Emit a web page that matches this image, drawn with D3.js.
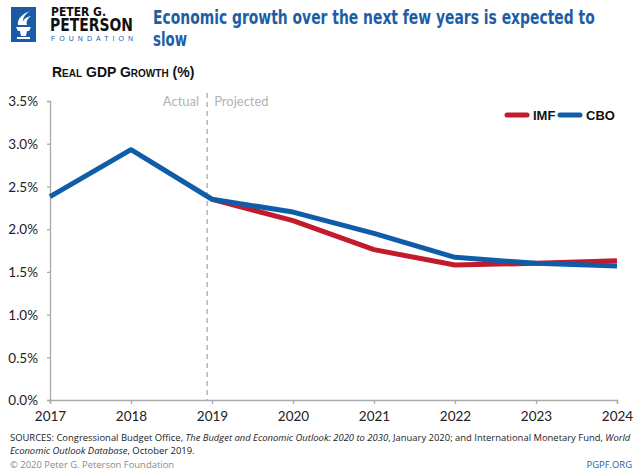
<!DOCTYPE html>
<html><head><meta charset="utf-8">
<script src="https://cdn.jsdelivr.net/npm/d3@7"></script>
<style>
body{margin:0;background:#fff;}
svg{display:block;}
</style></head>
<body><svg id="c" width="640" height="472"></svg>
<script>
const years = [2017, 2018, 2019, 2020, 2021, 2022, 2023, 2024];
const cboValues = [2.38, 2.93, 2.35, 2.20, 1.95, 1.67, 1.60, 1.57];
const imfYears = [2019, 2020, 2021, 2022, 2023, 2024];
const imfValues = [2.35, 2.10, 1.76, 1.58, 1.60, 1.63];
const yTicks = [0, 0.5, 1.0, 1.5, 2.0, 2.5, 3.0, 3.5];
const seriesNames = ["IMF", "CBO"];
const projectionStart = 2018.94;

const BLUE = "#0f5da8", RED = "#c11b2c", TITLE = "#1d5ea6";
const svg = d3.select("#c");
const x = d3.scaleLinear().domain([2017, 2024]).range([50, 617]);
const y = d3.scaleLinear().domain([0, 3.5]).range([400, 101]);

const condensed = "'Liberation Sans Narrow','DejaVu Sans Condensed',sans-serif";

// helper: place text at (tx,ty) and squeeze horizontally to a target width
function fitText(sel, tx, ty, width) {
  const w = sel.node().getComputedTextLength();
  const k = Math.min(1, width / w);
  sel.attr("x", 0).attr("y", 0).attr("transform", `translate(${tx},${ty}) scale(${k},1)`);
  return sel;
}

// Logo
const logo = svg.append("g");
logo.append("rect").attr("x", 11).attr("y", 7).attr("width", 25).attr("height", 35).attr("fill", "#1b5aa5");
logo.append("path").attr("d", "M16 27 L31 27 L29 31 L18 31 Z M20 31 L27 31 L26 36 L21 36 Z M17 37 L30 37 L30 39 L17 39 Z").attr("fill", "#fff");
logo.append("path").attr("d", "M18 25 C17 19 22 14 30 11 C24 15 22 19 23 25 Z M22 25 C22 20 26 17 31 16 C27 19 26 22 27 25 Z").attr("fill", "#fff");
logo.append("text").attr("x", 51).attr("y", 15.5).text("PETER G.")
  .attr("font-family", condensed).attr("font-weight", "bold").attr("font-size", 12).attr("fill", "#111");
fitText(logo.append("text").text("PETERSON")
  .attr("font-family", condensed).attr("font-weight", "bold").attr("font-size", 17.5).attr("fill", "#111"), 50, 31, 83);
logo.append("text").attr("x", 51).attr("y", 40.5).text("FOUNDATION")
  .attr("font-family", "'Liberation Sans',sans-serif").attr("font-size", 7).attr("fill", "#1b5aa5")
  .attr("textLength", 82).attr("lengthAdjust", "spacing");

// Title
fitText(svg.append("text").text("Economic growth over the next few years is expected to")
  .attr("font-family", condensed).attr("font-weight", "bold").attr("font-size", 20).attr("fill", TITLE), 153, 23.5, 442);
fitText(svg.append("text").text("slow")
  .attr("font-family", condensed).attr("font-weight", "bold").attr("font-size", 20).attr("fill", TITLE), 153, 45.5, 34);

// Subtitle (small caps)
fitText(svg.append("text").text("Real GDP Growth (%)")
  .attr("font-family", "'Liberation Sans',sans-serif").attr("font-weight", "bold").attr("font-size", 14)
  .style("font-variant", "small-caps").attr("fill", "#111"), 52, 77, 143);

// Axes
const axisColor = "#aaa";
const yAxis = svg.append("g").attr("transform", "translate(50,0)")
  .call(d3.axisLeft(y).tickValues(yTicks).tickFormat(d => d3.format(".1f")(d) + "%").tickSize(3).tickPadding(9));
const xAxis = svg.append("g").attr("transform", "translate(0,400)")
  .call(d3.axisBottom(x).tickValues(years).tickFormat(d3.format("d")).tickSize(4).tickPadding(7));
[yAxis, xAxis].forEach(a => {
  a.select(".domain").attr("stroke", axisColor).attr("stroke-width", 1.3);
  a.selectAll(".tick line").attr("stroke", axisColor).attr("stroke-width", 1.3);
  a.selectAll("text").attr("font-family", "Lato, sans-serif").attr("font-size", 13.5).attr("fill", "#222");
});
yAxis.selectAll("text").attr("dy", "0.35em");

// Actual / Projected divider
svg.append("line").attr("x1", x(projectionStart)).attr("x2", x(projectionStart)).attr("y1", 93).attr("y2", 400)
  .attr("stroke", "#aaa").attr("stroke-width", 1.3).attr("stroke-dasharray", "5,4");
svg.append("text").attr("x", x(projectionStart) - 8).attr("y", 106).attr("text-anchor", "end").text("Actual")
  .attr("font-family", "Lato, sans-serif").attr("font-size", 13).attr("fill", "#b3b3b3");
svg.append("text").attr("x", x(projectionStart) + 7).attr("y", 106).text("Projected")
  .attr("font-family", "Lato, sans-serif").attr("font-size", 13).attr("fill", "#b3b3b3");

// Lines
const line = d3.line().x(d => x(d[0])).y(d => y(d[1]));
svg.append("path").datum(imfYears.map((yr, i) => [yr, imfValues[i]])).attr("d", line)
  .attr("fill", "none").attr("stroke", RED).attr("stroke-width", 5).attr("stroke-linejoin", "round");
svg.append("path").datum(years.map((yr, i) => [yr, cboValues[i]])).attr("d", line)
  .attr("fill", "none").attr("stroke", BLUE).attr("stroke-width", 5).attr("stroke-linejoin", "round");

// Legend
const legend = svg.append("g");
const legendItems = [{name: seriesNames[0], color: RED, x: 507}, {name: seriesNames[1], color: BLUE, x: 560}];
legendItems.forEach(it => {
  legend.append("line").attr("x1", it.x).attr("x2", it.x + 20).attr("y1", 115).attr("y2", 115)
    .attr("stroke", it.color).attr("stroke-width", 5).attr("stroke-linecap", "round");
  legend.append("text").attr("x", it.x + 26).attr("y", 119.5).text(it.name)
    .attr("font-family", "'Liberation Sans',sans-serif").attr("font-weight", "bold").attr("font-size", 13).attr("fill", "#111");
});

// Sources
const sf = "'Open Sans', sans-serif";
const s1 = svg.append("text").attr("x", 10).attr("y", 441).attr("font-family", sf).attr("font-size", 10).attr("fill", "#222");
s1.append("tspan").text("SOURCES: Congressional Budget Office, ");
s1.append("tspan").attr("font-style", "italic").text("The Budget and Economic Outlook: 2020 to 2030");
s1.append("tspan").text(", January 2020; and International Monetary Fund, ");
s1.append("tspan").attr("font-style", "italic").text("World");
const natural = s1.node().getComputedTextLength();
const fs = Math.min(10.5, 10 * 621 / natural);
s1.attr("font-size", fs);
const s2 = svg.append("text").attr("x", 10).attr("y", 454).attr("font-family", sf).attr("font-size", fs).attr("fill", "#222");
s2.append("tspan").attr("font-style", "italic").text("Economic Outlook Database");
s2.append("tspan").text(", October 2019.");
svg.append("text").attr("x", 10).attr("y", 468).text("© 2020 Peter G. Peterson Foundation")
  .attr("font-family", sf).attr("font-size", fs).attr("fill", "#8a8a8a");
svg.append("text").attr("x", 632).attr("y", 468).attr("text-anchor", "end").text("PGPF.ORG")
  .attr("font-family", sf).attr("font-size", fs).attr("fill", "#1d5ea6");
</script></body></html>
